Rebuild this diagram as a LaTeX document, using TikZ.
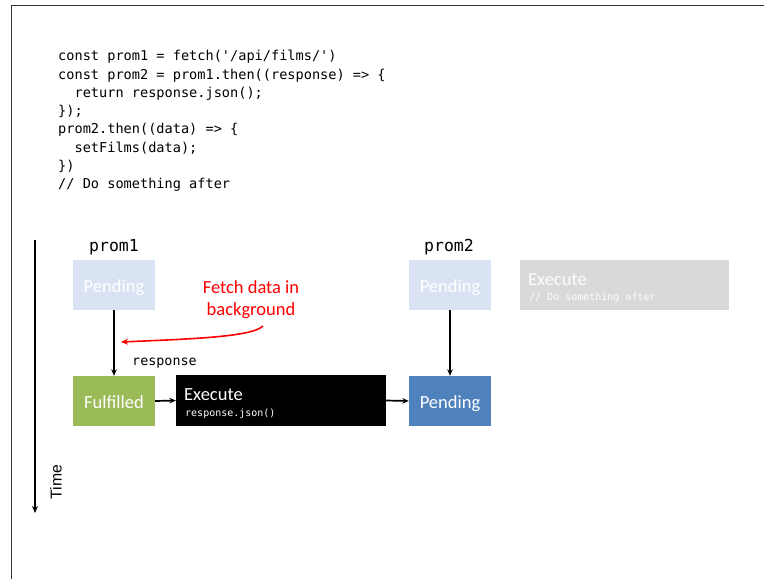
\documentclass[tikz,border=0pt]{standalone}
\usepackage{fontspec}
\setmainfont{Carlito}
\newfontfamily\codefont{DejaVu Sans Mono}
\newfontfamily\arialfont{Liberation Sans}
\usetikzlibrary{arrows.meta}
\definecolor{lightblue}{HTML}{DAE3F3}
\definecolor{darkblue}{HTML}{4F81BD}
\definecolor{leafgreen}{HTML}{9BBB59}
\definecolor{lightgray}{HTML}{D9D9D9}
\definecolor{framegray}{HTML}{333333}
\tikzset{
  statebox/.style={minimum width=82pt, minimum height=50pt, inner sep=0pt, text=white, text height=17pt, text depth=3pt, font=\fontsize{18.5}{20}\selectfont},
  execbox/.style={minimum width=210pt, minimum height=51pt, inner sep=0pt},
  conn/.style={-{Stealth[length=6.5pt,width=5.5pt]}, line width=1.7pt, black},
  promlabel/.style={font=\codefont\fontsize{16.5}{18}\selectfont, inner sep=0pt},
  codeline/.style={anchor=west, inner sep=0pt, font=\codefont\fontsize{13.6}{15}\selectfont}
}
\begin{document}
\begin{tikzpicture}[x=1pt,y=-1pt]
\useasboundingbox (0,0) rectangle (764,579);
% frame
\draw[framegray, line width=0.9pt] (11,579) -- (11,5) -- (764,5);
% code
\node[codeline] (c1) at (58,57) {const prom1 = fetch('/api/films/')};
\node[codeline] (c2) at (58,75.3) {const prom2 = prom1.then((response) => \{};
\node[codeline] (c3) at (58,93.6) {\ \ return response.json();};
\node[codeline] (c4) at (58,111.9) {\});};
\node[codeline] (c5) at (58,130.2) {prom2.then((data) => \{};
\node[codeline] (c6) at (58,148.5) {\ \ setFilms(data);};
\node[codeline] (c7) at (58,166.8) {\})};
\node[codeline] (c8) at (58,185.1) {// Do something after};
% time axis
\coordinate (t0) at (35,240);
\coordinate (t1) at (35,513);
\draw[-{Stealth[length=7pt,width=6pt]}, line width=1.7pt] (t0) -- (t1);
\node[rotate=90, font=\arialfont\fontsize{15.8}{17}\selectfont, inner sep=0pt] (time) at (56,482) {Time};
% prom1
\node[promlabel] (p1lab) at (114,247) {prom1};
\node[statebox, fill=lightblue] (pend1) at (114,285) {Pending};
\node[statebox, fill=leafgreen] (ful) at (114,401) {Fulfilled};
\draw[conn] (pend1.south) -- (ful.north);
\coordinate (fetchtip) at (121,342);
\node[align=center, text=red, font=\fontsize{18.5}{22}\selectfont, inner sep=0pt] (fetch) at (251,300) {Fetch data in\\background};
\coordinate (fetchstart) at (263,326);
\draw[red, line width=1.6pt, -{Stealth[length=7pt,width=6pt]}] (fetchstart) .. controls (252,337) and (190,339) .. (fetchtip);
\node[anchor=west, font=\codefont\fontsize{13.4}{15}\selectfont, inner sep=0pt] (resp) at (132,363) {response};
% execute
\node[execbox, fill=black] (exec) at (281,400.5) {};
\node[anchor=west, text=white, font=\fontsize{18.5}{20}\selectfont, inner sep=0pt] (exect) at (184,395) {Execute};
\node[anchor=west, text=white, font=\codefont\fontsize{10}{11}\selectfont, inner sep=0pt] (execs) at (185,413.5) {response.json()};
\draw[conn] (ful.east) -- (exec.west);
% prom2
\node[promlabel] (p2lab) at (449,247) {prom2};
\node[statebox, fill=lightblue] (pend2) at (450,285) {Pending};
\node[statebox, fill=darkblue] (pend3) at (450,401) {Pending};
\draw[conn] (pend2.south) -- (pend3.north);
\draw[conn] (exec.east) -- (pend3.west);
% after
\node[execbox, minimum height=50pt, minimum width=209pt, fill=lightgray] (after) at (624.5,285) {};
\node[anchor=west, text=white!95!lightgray, font=\fontsize{18.5}{20}\selectfont, inner sep=0pt] (aftert) at (528,280) {Execute};
\node[anchor=west, text=white!95!lightgray, font=\codefont\fontsize{10}{11}\selectfont, inner sep=0pt] (afters) at (529,297.5) {// Do something after};
\end{tikzpicture}
\end{document}
